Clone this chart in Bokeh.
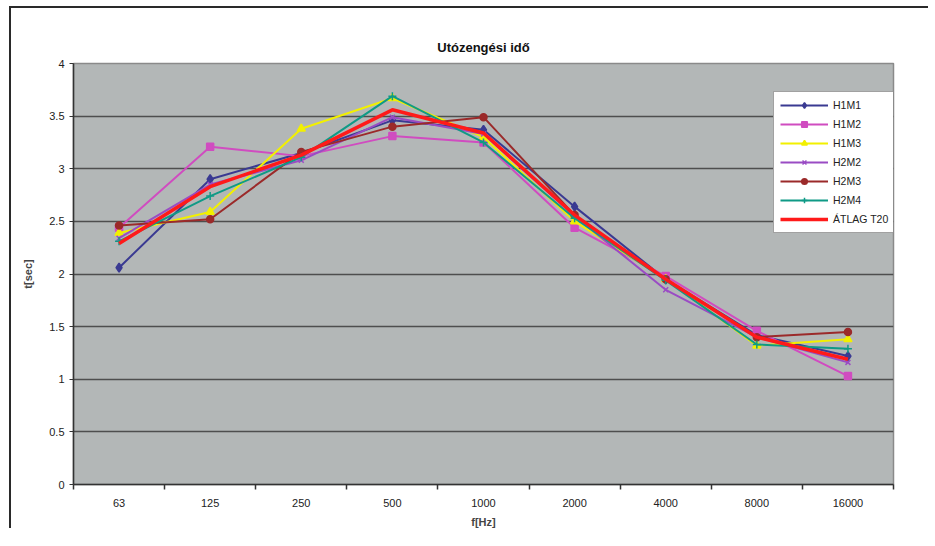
from bokeh.plotting import figure
from bokeh.models import (FactorRange, Range1d, LinearAxis, FixedTicker,
                          CustomJSTickFormatter, Legend, LegendItem, ColumnDataSource)
from bokeh.embed import file_html
from bokeh.resources import INLINE

freqs = ["63", "125", "250", "500", "1000", "2000", "4000", "8000", "16000"]

h1m1 = [2.06, 2.90, 3.15, 3.46, 3.37, 2.64, 1.95, 1.42, 1.22]
h1m2 = [2.44, 3.21, 3.12, 3.31, 3.25, 2.44, 1.98, 1.46, 1.03]
h1m3 = [2.39, 2.59, 3.38, 3.67, 3.30, 2.50, 1.95, 1.32, 1.38]
h2m2 = [2.34, 2.85, 3.08, 3.49, 3.33, 2.55, 1.85, 1.40, 1.16]
h2m3 = [2.46, 2.52, 3.16, 3.40, 3.49, 2.56, 1.95, 1.40, 1.45]
h2m4 = [2.31, 2.74, 3.11, 3.69, 3.25, 2.53, 1.94, 1.33, 1.29]
atlag = [2.29, 2.83, 3.13, 3.56, 3.34, 2.56, 1.95, 1.40, 1.19]

series = [
    ("H1M1", h1m1, "#3a3a92", "diamond", 9),
    ("H1M2", h1m2, "#d04cc0", "square", 7),
    ("H1M3", h1m3, "#f2f000", "triangle", 8),
    ("H2M2", h2m2, "#9a4cc4", "x", 7),
    ("H2M3", h2m3, "#9b2a2a", "circle", 7),
    ("H2M4", h2m4, "#0f9a86", "cross", 8),
]

yticks = [0, 0.5, 1, 1.5, 2, 2.5, 3, 3.5, 4]

p = figure(width=919, height=522, output_backend="svg", toolbar_location=None,
           x_range=FactorRange(*freqs, range_padding=0), y_range=Range1d(0, 4),
           x_axis_location=None, y_axis_location="left",
           min_border_left=62, min_border_right=37, min_border_top=55, min_border_bottom=44,
           title="Utózengési idő")

p.styles = {"margin-top": "6px", "margin-left": "9px",
            "border-top": "2px solid #2a2a2a", "border-left": "2px solid #2a2a2a"}

p.background_fill_color = "#b3b7b7"
p.border_fill_color = "white"
p.outline_line_color = "#8a8a8a"
p.outline_line_width = 1.5

p.title.align = "center"
p.title.text_font = "Liberation Sans"
p.title.text_font_size = "13px"
p.title.text_font_style = "bold"
p.title.text_color = "#111111"
p.title.offset = 8
p.title.standoff = 18

# y axis
p.yaxis.ticker = FixedTicker(ticks=yticks)
p.yaxis.formatter = CustomJSTickFormatter(code="return tick.toString()")
p.yaxis.axis_label = "t[sec]"
p.yaxis.axis_label_text_font = "Liberation Sans"
p.yaxis.axis_label_text_font_size = "11px"
p.yaxis.axis_label_text_font_style = "bold"
p.yaxis.axis_label_standoff = 12
p.yaxis.major_label_text_font = "Liberation Sans"
p.yaxis.major_label_text_font_size = "11px"
p.yaxis.major_label_text_color = "#222222"
p.yaxis.axis_line_color = "#333333"
p.yaxis.axis_line_width = 1.5
p.yaxis.major_tick_line_color = "#333333"
p.yaxis.major_tick_out = 4
p.yaxis.major_tick_in = 0
p.yaxis.minor_tick_line_color = None

p.ygrid.grid_line_color = "#4e4e4e"
p.ygrid.grid_line_width = 1.6
p.xgrid.grid_line_color = None

# x axis: labels at category centres, tick marks on category borders
n = len(freqs)
x_axis = LinearAxis(
    ticker=FixedTicker(ticks=[i + 0.5 for i in range(n)], minor_ticks=list(range(n + 1))),
    formatter=CustomJSTickFormatter(args=dict(names=freqs),
                                    code="return names[Math.floor(tick)]"),
    axis_line_color="#333333", axis_line_width=1.5,
    major_tick_line_color=None, major_tick_out=0, major_tick_in=0,
    minor_tick_line_color="#333333", minor_tick_line_width=1.5, minor_tick_out=5, minor_tick_in=0,
    major_label_text_font="Liberation Sans", major_label_text_font_size="11px",
    major_label_text_color="#222222", major_label_standoff=9,
    axis_label="f[Hz]", axis_label_text_font="Liberation Sans",
    axis_label_text_font_size="11px", axis_label_text_font_style="bold",
    axis_label_standoff=6)
p.add_layout(x_axis, "below")

items = []
for name, vals, color, marker, size in series:
    src = ColumnDataSource(dict(x=freqs, y=vals))
    ln = p.line("x", "y", source=src, line_color=color, line_width=2)
    sc = p.scatter("x", "y", source=src, marker=marker, size=size,
                   fill_color=color, line_color=color, line_width=1.5)
    items.append(LegendItem(label=name, renderers=[ln, sc]))

src = ColumnDataSource(dict(x=freqs, y=atlag))
ln = p.line("x", "y", source=src, line_color="#ff1a1a", line_width=3.5)
items.append(LegendItem(label="ÁTLAG T20", renderers=[ln]))

legend = Legend(items=items, location=(700, 251), orientation="vertical",
                label_text_font="Liberation Sans", label_text_font_size="10.5px",
                label_text_color="#222222", label_height=14, glyph_height=14, glyph_width=48,
                spacing=5, padding=6, margin=0, label_standoff=5,
                border_line_color="#444444", border_line_width=1.5,
                background_fill_color="white", background_fill_alpha=1)
p.add_layout(legend, "center")

open("out.html", "w").write(file_html(p, INLINE))
